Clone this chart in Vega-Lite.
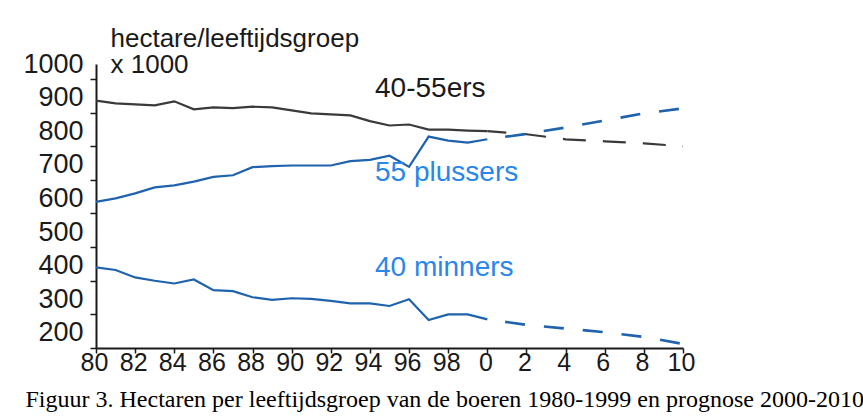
{
  "$schema": "https://vega.github.io/schema/vega-lite/v6.json",
  "width": 587,
  "height": 284,
  "autosize": {"type": "none"},
  "padding": {"left": 96, "top": 64, "right": 180, "bottom": 68},
  "background": "white",
  "config": {"view": {"stroke": null}, "font": "Liberation Sans"},
  "datasets": {
    "series": [
      {"series": "40-55ers", "part": "actual", "year": 1980, "value": 891},
      {"series": "40-55ers", "part": "actual", "year": 1981, "value": 883},
      {"series": "40-55ers", "part": "actual", "year": 1982, "value": 880},
      {"series": "40-55ers", "part": "actual", "year": 1983, "value": 877},
      {"series": "40-55ers", "part": "actual", "year": 1984, "value": 889},
      {"series": "40-55ers", "part": "actual", "year": 1985, "value": 865},
      {"series": "40-55ers", "part": "actual", "year": 1986, "value": 871},
      {"series": "40-55ers", "part": "actual", "year": 1987, "value": 869},
      {"series": "40-55ers", "part": "actual", "year": 1988, "value": 873},
      {"series": "40-55ers", "part": "actual", "year": 1989, "value": 871},
      {"series": "40-55ers", "part": "actual", "year": 1990, "value": 862},
      {"series": "40-55ers", "part": "actual", "year": 1991, "value": 853},
      {"series": "40-55ers", "part": "actual", "year": 1992, "value": 850},
      {"series": "40-55ers", "part": "actual", "year": 1993, "value": 847},
      {"series": "40-55ers", "part": "actual", "year": 1994, "value": 830},
      {"series": "40-55ers", "part": "actual", "year": 1995, "value": 817},
      {"series": "40-55ers", "part": "actual", "year": 1996, "value": 820},
      {"series": "40-55ers", "part": "actual", "year": 1997, "value": 805},
      {"series": "40-55ers", "part": "actual", "year": 1998, "value": 805},
      {"series": "40-55ers", "part": "actual", "year": 1999, "value": 802},
      {"series": "40-55ers", "part": "actual", "year": 2000, "value": 800},
      {"series": "40-55ers", "part": "prognose", "year": 2000, "value": 800},
      {"series": "40-55ers", "part": "prognose", "year": 2002, "value": 791},
      {"series": "40-55ers", "part": "prognose", "year": 2004, "value": 776},
      {"series": "40-55ers", "part": "prognose", "year": 2006, "value": 770},
      {"series": "40-55ers", "part": "prognose", "year": 2008, "value": 764},
      {"series": "40-55ers", "part": "prognose", "year": 2010, "value": 755},
      {"series": "55 plussers", "part": "actual", "year": 1980, "value": 590},
      {"series": "55 plussers", "part": "actual", "year": 1981, "value": 600},
      {"series": "55 plussers", "part": "actual", "year": 1982, "value": 615},
      {"series": "55 plussers", "part": "actual", "year": 1983, "value": 633},
      {"series": "55 plussers", "part": "actual", "year": 1984, "value": 639},
      {"series": "55 plussers", "part": "actual", "year": 1985, "value": 650},
      {"series": "55 plussers", "part": "actual", "year": 1986, "value": 664},
      {"series": "55 plussers", "part": "actual", "year": 1987, "value": 669},
      {"series": "55 plussers", "part": "actual", "year": 1988, "value": 693},
      {"series": "55 plussers", "part": "actual", "year": 1989, "value": 696},
      {"series": "55 plussers", "part": "actual", "year": 1990, "value": 698},
      {"series": "55 plussers", "part": "actual", "year": 1991, "value": 698},
      {"series": "55 plussers", "part": "actual", "year": 1992, "value": 698},
      {"series": "55 plussers", "part": "actual", "year": 1993, "value": 711},
      {"series": "55 plussers", "part": "actual", "year": 1994, "value": 715},
      {"series": "55 plussers", "part": "actual", "year": 1995, "value": 727},
      {"series": "55 plussers", "part": "actual", "year": 1996, "value": 694},
      {"series": "55 plussers", "part": "actual", "year": 1997, "value": 784},
      {"series": "55 plussers", "part": "actual", "year": 1998, "value": 772},
      {"series": "55 plussers", "part": "actual", "year": 1999, "value": 766},
      {"series": "55 plussers", "part": "actual", "year": 2000, "value": 776},
      {"series": "55 plussers", "part": "prognose", "year": 2000, "value": 776},
      {"series": "55 plussers", "part": "prognose", "year": 2002, "value": 792},
      {"series": "55 plussers", "part": "prognose", "year": 2004, "value": 811},
      {"series": "55 plussers", "part": "prognose", "year": 2006, "value": 832},
      {"series": "55 plussers", "part": "prognose", "year": 2008, "value": 853},
      {"series": "55 plussers", "part": "prognose", "year": 2010, "value": 868},
      {"series": "40 minners", "part": "actual", "year": 1980, "value": 395},
      {"series": "40 minners", "part": "actual", "year": 1981, "value": 387},
      {"series": "40 minners", "part": "actual", "year": 1982, "value": 365},
      {"series": "40 minners", "part": "actual", "year": 1983, "value": 355},
      {"series": "40 minners", "part": "actual", "year": 1984, "value": 347},
      {"series": "40 minners", "part": "actual", "year": 1985, "value": 359},
      {"series": "40 minners", "part": "actual", "year": 1986, "value": 327},
      {"series": "40 minners", "part": "actual", "year": 1987, "value": 324},
      {"series": "40 minners", "part": "actual", "year": 1988, "value": 306},
      {"series": "40 minners", "part": "actual", "year": 1989, "value": 298},
      {"series": "40 minners", "part": "actual", "year": 1990, "value": 303},
      {"series": "40 minners", "part": "actual", "year": 1991, "value": 301},
      {"series": "40 minners", "part": "actual", "year": 1992, "value": 295},
      {"series": "40 minners", "part": "actual", "year": 1993, "value": 288},
      {"series": "40 minners", "part": "actual", "year": 1994, "value": 288},
      {"series": "40 minners", "part": "actual", "year": 1995, "value": 280},
      {"series": "40 minners", "part": "actual", "year": 1996, "value": 300},
      {"series": "40 minners", "part": "actual", "year": 1997, "value": 238},
      {"series": "40 minners", "part": "actual", "year": 1998, "value": 255},
      {"series": "40 minners", "part": "actual", "year": 1999, "value": 255},
      {"series": "40 minners", "part": "actual", "year": 2000, "value": 240},
      {"series": "40 minners", "part": "prognose", "year": 2000, "value": 240},
      {"series": "40 minners", "part": "prognose", "year": 2002, "value": 224},
      {"series": "40 minners", "part": "prognose", "year": 2004, "value": 213},
      {"series": "40 minners", "part": "prognose", "year": 2006, "value": 202},
      {"series": "40 minners", "part": "prognose", "year": 2008, "value": 188},
      {"series": "40 minners", "part": "prognose", "year": 2010, "value": 167}
    ],
    "labels": [
      {"series": "40-55ers", "year": 1994.26, "value": 927},
      {"series": "55 plussers", "year": 1994.26, "value": 675},
      {"series": "40 minners", "year": 1994.26, "value": 394}
    ]
  },
  "encoding": {
    "x": {
      "field": "year",
      "type": "quantitative",
      "scale": {"domain": [1980, 2010], "nice": false, "zero": false},
      "axis": {
        "title": "Figuur 3. Hectaren per leeftijdsgroep van de boeren 1980-1999 en prognose 2000-2010",
        "titleFont": "Liberation Serif", "titleFontSize": 24, "titleFontWeight": "normal", "titleColor": "#000000",
        "titleAnchor": "start", "titleAlign": "left", "titleBaseline": "alphabetic", "titleX": -71, "titleY": 58,
        "values": [1980, 1982, 1984, 1986, 1988, 1990, 1992, 1994, 1996, 1998, 2000, 2002, 2004, 2006, 2008, 2010],
        "labelExpr": "datum.value % 100", "labelFont": "Liberation Sans", "labelFontSize": 25, "labelColor": "#1a1a1a",
        "labelPadding": -3, "labelOffset": -2, "labelFlush": false, "labelOverlap": false,
        "tickSize": 5, "tickColor": "#1a1a1a", "tickWidth": 1.5, "domainColor": "#1a1a1a", "domainWidth": 2, "grid": false
      }
    },
    "y": {
      "field": "value",
      "type": "quantitative",
      "scale": {"domain": [155, 1000], "nice": false, "zero": false},
      "axis": {
        "title": ["hectare/leeftijdsgroep", "x 1000"],
        "titleAngle": 0, "titleAlign": "left", "titleBaseline": "alphabetic", "titleX": 14, "titleY": -18,
        "titleFont": "Liberation Sans", "titleFontSize": 26, "titleFontWeight": "normal", "titleColor": "#1a1a1a",
        "titleLineHeight": 26,
        "values": [200, 300, 400, 500, 600, 700, 800, 900, 1000], "format": "d",
        "tickOffset": 15, "labelOffset": -15, "labelFontSize": 27, "labelColor": "#1a1a1a", "labelPadding": 7,
        "labelBaseline": "middle", "labelFlush": false, "labelOverlap": false,
        "tickSize": 6, "tickColor": "#1a1a1a", "tickWidth": 1.5,
        "domain": true, "domainColor": "#1a1a1a", "domainWidth": 2, "grid": false
      }
    }
  },
  "layer": [
    {
      "data": {"name": "series"},
      "transform": [{"filter": "datum.part === 'actual'"}],
      "mark": {"type": "line", "strokeWidth": 2.2},
      "encoding": {
        "color": {
          "field": "series",
          "type": "nominal",
          "scale": {"domain": ["40-55ers", "55 plussers", "40 minners"], "range": ["#3a3a3a", "#1f62ad", "#1f62ad"]},
          "legend": null
        }
      }
    },
    {
      "data": {"name": "series"},
      "transform": [{"filter": "datum.part === 'prognose' && datum.series === '40-55ers'"}],
      "mark": {"type": "line", "strokeWidth": 2.2, "color": "#3a3a3a", "strokeDash": [23, 17], "strokeDashOffset": 4},
      "encoding": {}
    },
    {
      "data": {"name": "series"},
      "transform": [{"filter": "datum.part === 'prognose' && datum.series !== '40-55ers'"}],
      "mark": {"type": "line", "strokeWidth": 2.6, "color": "#1f62ad", "strokeDash": [20, 19], "strokeDashOffset": 21},
      "encoding": {"detail": {"field": "series", "type": "nominal"}}
    },
    {
      "data": {"name": "labels"},
      "mark": {"type": "text", "align": "left", "baseline": "middle", "font": "Liberation Sans", "fontSize": 28},
      "encoding": {
        "text": {"field": "series", "type": "nominal"},
        "color": {
          "field": "series",
          "type": "nominal",
          "scale": {"domain": ["40-55ers", "55 plussers", "40 minners"], "range": ["#1a1a1a", "#2a86ea", "#2a86ea"]},
          "legend": null
        }
      }
    }
  ],
  "resolve": {"scale": {"color": "independent"}}
}
